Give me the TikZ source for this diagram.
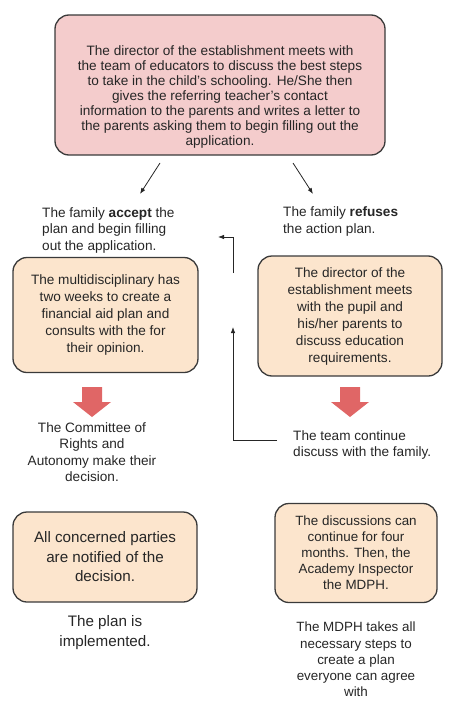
\documentclass[tikz,border=0pt]{standalone}
\usepackage{fontspec}
\setmainfont{Liberation Sans}
\usetikzlibrary{positioning,arrows.meta}
\definecolor{boxpink}{HTML}{F4CCCC}
\definecolor{boxpeach}{HTML}{FCE5CD}
\definecolor{arrred}{HTML}{E06666}
\definecolor{edgegray}{HTML}{3A3A3A}
\definecolor{txtgray}{HTML}{262626}
\tikzset{
mybox/.style={
  draw=edgegray,
  line width=1.3pt,
  rounded corners=14pt,
  inner sep=0pt,
  align=center,
  text=txtgray,
  font=\fontsize{13.6}{17}\selectfont
  },
pinkbox/.style={mybox,fill=boxpink},
peachbox/.style={mybox,fill=boxpeach},
plaintxt/.style={
  inner sep=0pt,
  text=txtgray,
  font=\fontsize{13.6}{16.5}\selectfont
  },
bigtxt/.style={plaintxt,font=\fontsize{15.2}{19.5}\selectfont},
thinarr/.style={-{Latex[length=6pt,width=4.5pt]},line width=0.8pt,draw=black!85}
}

\begin{document}
\begin{tikzpicture}[x=1pt,y=-1pt]
\useasboundingbox (0,0) rectangle (449,701);

% top box
\node[pinkbox,minimum width=330pt,minimum height=140pt] (top) at (220,85) {};
\node[plaintxt,align=center,font=\fontsize{13.6}{15}\selectfont] (toptxt) at (220,97)
{The director of the establishment meets with\\
the team of educators to discuss the best steps\\
to take in the child's schooling. He/She then\\
gives the referring teacher's contact\\
information to the parents and writes a letter to\\
the parents asking them to begin filling out the\\
application.};

% the two answers
\node[plaintxt,anchor=west,align=left] (accept) at (42,230)
{The family \textbf{accept} the\\
plan and begin filling\\
out the application.};
\node[plaintxt,anchor=west,align=left] (refuse) at (283,221.5)
{The family \textbf{refuses}\\
the action plan.};

\coordinate (la) at (160,163);
\coordinate (lb) at (140,194);
\coordinate (ra) at (293,163);
\coordinate (rb) at (313,194);
\draw[thinarr] (la) -- (lb);
\draw[thinarr] (ra) -- (rb);

% middle boxes
\node[peachbox,minimum width=185pt,minimum height=115pt] (multi) at (105.5,315)
{The multidisciplinary has\\
two weeks to create a\\
financial aid plan and\\
consults with the for\\
their opinion.};
\node[peachbox,minimum width=184pt,minimum height=120pt] (meet) at (350,316)
{The director of the\\
establishment meets\\
with the pupil and\\
his/her parents to\\
discuss education\\
requirements.};

% red arrows
\coordinate (ra1) at (92,387);
\coordinate (ra2) at (350,387);
\foreach \p in {ra1,ra2}{
  \fill[arrred] (\p) ++(-10,0) -- ++(20,0) -- ++(0,15) -- ++(9,0)
    -- ++(-19,15) -- ++(-19,-15) -- ++(9,0) -- cycle;
}

\node[plaintxt,align=center] (cdaph) at (92,452)
{The Committee of\\
Rights and\\
Autonomy make their\\
decision.};
\node[plaintxt,anchor=west,align=left] (team) at (293,445)
{The team continue\\
discuss with the family.};

% loop back
\coordinate (up1) at (233,440);
\coordinate (up2) at (233,327);
\coordinate (up3) at (233,273);
\coordinate (up4) at (233,237);
\coordinate (up5) at (218,237);
\draw[line width=0.8pt,draw=black!85] ([xshift=-16pt]team.west |- up1) -- (up1);
\draw[thinarr] (up1) -- (up2);
\draw[thinarr] (up3) -- (up4) -- (up5);

% bottom boxes
\node[peachbox,minimum width=184pt,minimum height=90pt,font=\fontsize{15.2}{19.5}\selectfont] (notify) at (105,557)
{All concerned parties\\
are notified of the\\
decision.};
\node[peachbox,minimum width=162pt,minimum height=99pt,font=\fontsize{13.4}{16}\selectfont] (insp) at (356,553)
{The discussions can\\
continue for four\\
months. Then, the\\
Academy Inspector\\
the MDPH.};

\node[bigtxt,align=center] (impl) at (105,632.5)
{The plan is\\
implemented.};
\node[plaintxt,align=center,font=\fontsize{13.4}{16.25}\selectfont] (mdph) at (356,659.5)
{The MDPH takes all\\
necessary steps to\\
create a plan\\
everyone can agree\\
with};
\end{tikzpicture}
\end{document}
